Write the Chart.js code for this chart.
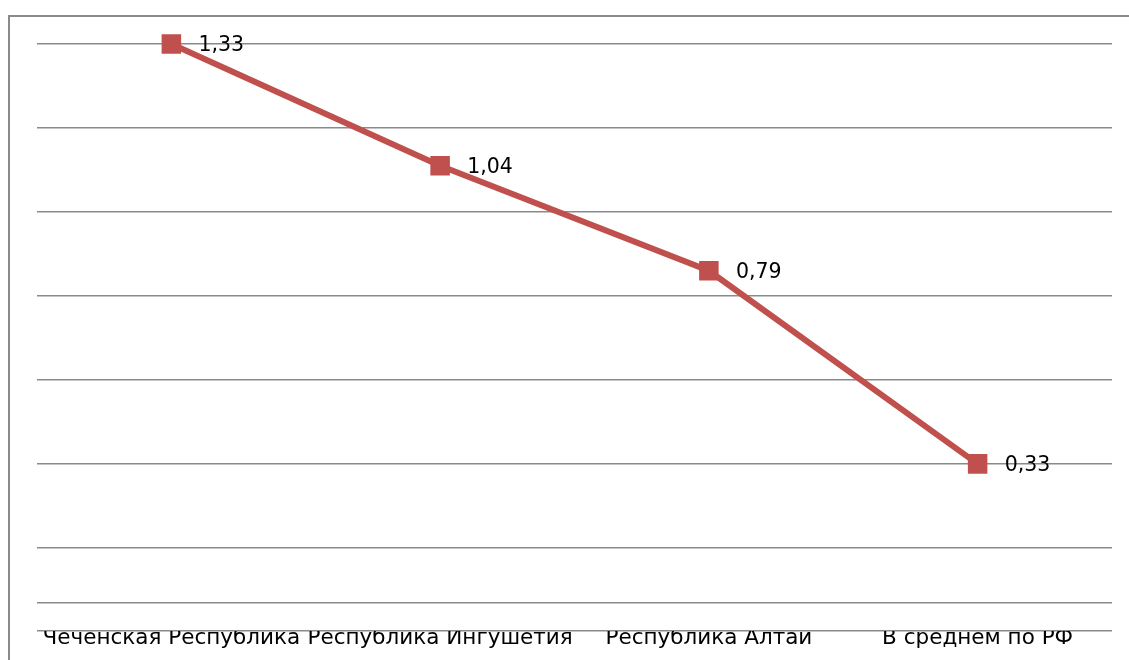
<!DOCTYPE html>
<html><head><meta charset="utf-8">
<script src="https://cdn.jsdelivr.net/npm/chart.js@4/dist/chart.umd.min.js"></script>
<style>
html,body{margin:0;padding:0;background:#fff;}
#wrap{position:relative;width:1129px;height:660px;overflow:hidden;}
#frame{position:absolute;left:8px;top:15px;width:1200px;height:700px;border-top:2px solid #8a8a8a;border-left:2px solid #8a8a8a;}
canvas{position:absolute;left:0;top:0;}
</style></head>
<body><div id="wrap"><div id="frame"></div><canvas id="c" width="1129" height="660"></canvas></div>
<script>
const categories = ['Чеченская Республика','Республика Ингушетия','Республика Алтай','В среднем по РФ'];
const values = [1.33, 1.04, 0.79, 0.33];
const gridValues = [1.33, 1.13, 0.93, 0.73, 0.53, 0.33, 0.13, 0, -0.068];
const yMin = -0.068, yMax = 1.387;

const labelPlugin = {
  id: 'valueLabels',
  afterDatasetsDraw(chart) {
    const ctx = chart.ctx;
    const meta = chart.getDatasetMeta(0);
    ctx.save();
    ctx.font = '20.5px "DejaVu Sans"';
    ctx.fillStyle = '#000';
    ctx.textAlign = 'left';
    ctx.textBaseline = 'middle';
    meta.data.forEach((pt, i) => {
      ctx.fillText(values[i].toFixed(2).replace('.', ','), pt.x + 27, pt.y + 2);
    });
    ctx.restore();
  }
};

new Chart(document.getElementById('c'), {
  type: 'line',
  data: {
    labels: categories,
    datasets: [{
      data: values,
      borderColor: '#C0504D',
      backgroundColor: '#C0504D',
      borderWidth: 6,
      pointStyle: 'rect',
      pointRadius: 13.8,
      pointHoverRadius: 13.8,
      pointBorderWidth: 0,
      tension: 0
    }]
  },
  options: {
    responsive: false,
    animation: false,
    devicePixelRatio: 1,
    layout: { padding: { left: 37, right: 17, top: 20, bottom: 0 } },
    plugins: { legend: { display: false }, tooltip: { enabled: false } },
    scales: {
      x: {
        offset: true,
        grid: { display: false },
        border: { display: false },
        ticks: { color: '#000', font: { family: 'DejaVu Sans', size: 21.5 }, padding: -13, maxRotation: 0, autoSkip: false },
        afterFit: s => { s.height = 29; }
      },
      y: {
        min: yMin, max: yMax,
        border: { display: false },
        grid: { color: '#8a8a8a', lineWidth: 1.5, drawTicks: false },
        ticks: { display: false },
        afterBuildTicks: s => { s.ticks = gridValues.map(v => ({ value: v })); },
        afterFit: s => { s.width = 0; }
      }
    }
  },
  plugins: [labelPlugin]
});
</script></body></html>
